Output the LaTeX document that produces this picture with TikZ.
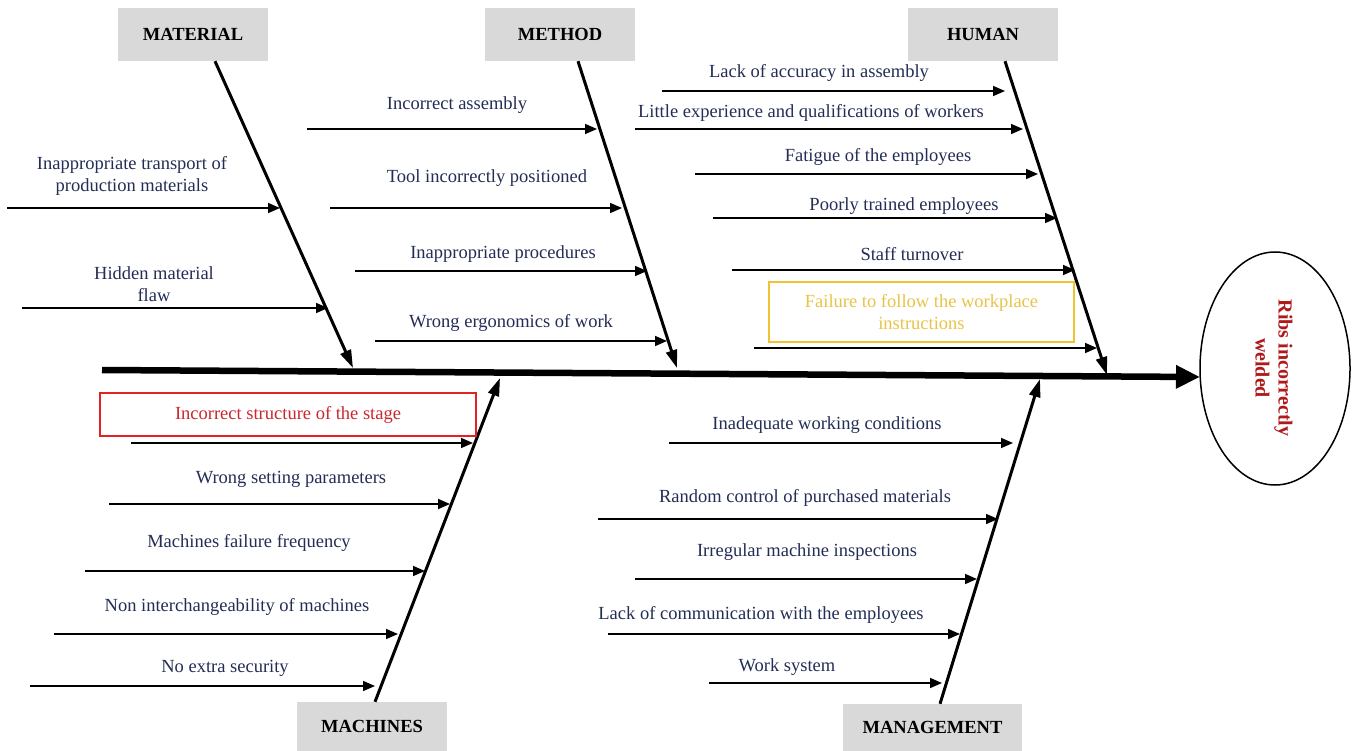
\documentclass[tikz,border=0pt]{standalone}
\usepackage{fontspec}
\setmainfont{Liberation Serif}
\usetikzlibrary{arrows.meta,shapes.geometric}
\definecolor{txt}{RGB}{35,45,85}
\definecolor{boxgray}{RGB}{217,217,217}
\definecolor{redbox}{RGB}{225,35,35}
\definecolor{redtxt}{RGB}{200,40,45}
\definecolor{goldbox}{RGB}{240,195,50}
\definecolor{goldtxt}{RGB}{232,195,70}
\definecolor{ribs}{RGB}{175,25,25}
\begin{document}
\begin{tikzpicture}[x=1pt,y=-1pt,
  cat/.style={fill=boxgray, minimum width=150pt, minimum height=53pt, inner sep=0pt,
    font=\fontsize{18.5}{21}\selectfont\bfseries, text=black},
  lbl/.style={font=\fontsize{18.5}{21.5}\selectfont, text=txt, align=center, inner sep=0pt, yshift=-2pt},
  branch/.style={line width=1.6pt, -{Triangle[length=12pt,width=10pt]}},
  bone/.style={line width=3pt, -{Triangle[length=18pt,width=11pt]}},
  spine/.style={line width=6.5pt, -{Triangle[length=24pt,width=22pt]}}]
\useasboundingbox (0,0) rectangle (1356,751);

% category boxes
\node[cat] (mat) at (193,34.5) {MATERIAL};
\node[cat] (met) at (560,34.5) {METHOD};
\node[cat] (hum) at (983,34.5) {HUMAN};
\node[cat, minimum height=49pt] (mac) at (372,726.5) {MACHINES};
\node[cat, minimum width=179pt, minimum height=47pt] (man) at (932.5,727.5) {MANAGEMENT};

% effect
\node[ellipse, draw, line width=1.5pt, minimum width=150pt, minimum height=233pt] (eff) at (1275,368.5) {};
\node[rotate=-90, align=center, text=ribs, inner sep=0pt,
  font=\fontsize{20}{23}\selectfont\bfseries] (efftxt) at (1274,368) {Ribs incorrectly\\welded};

% spine
\coordinate (spL) at (102,370);
\coordinate (spR) at (1200,377);
\draw[spine] (spL) -- (spR);

% bones
\coordinate (matTip) at (353,368);
\coordinate (metTip) at (677,368);
\coordinate (humTip) at (1107,375);
\coordinate (macTip) at (500,378);
\coordinate (manTip) at (1040,379);
\draw[bone] ([xshift=22pt]mat.south) -- (matTip);
\draw[bone] ([xshift=18pt]met.south) -- (metTip);
\draw[bone] ([xshift=22pt]hum.south) -- (humTip);
\draw[bone] ([xshift=3pt]mac.north) -- (macTip);
\draw[bone] ([xshift=7.5pt]man.north) -- (manTip);

% highlighted boxes
\node[draw=redbox, line width=2.2pt, minimum width=376pt, minimum height=43pt, inner sep=0pt,
  text=redtxt, font=\fontsize{18.5}{21.5}\selectfont] (redb) at (288,414.5) {Incorrect structure of the stage};
\node[draw=goldbox, line width=2.5pt, minimum width=305pt, minimum height=60pt, inner sep=0pt,
  text=goldtxt, align=center, font=\fontsize{18.5}{21.5}\selectfont] (goldb) at (921.5,312) {Failure to follow the workplace\\instructions};

% branch arrows
\foreach \n/\xa/\xb/\y in {
  a1/7/280/208, a2/22/328/308,
  b1/307/597/129, b2/330/622/208, b3/355/647/271, b4/375/667/341,
  c1/662/1005/91, c2/635/1023/129, c3/695/1038/174, c4/713/1057/218, c5/732/1075/270, c6/754/1097/348,
  d1/131/473/443, d2/109/450/504, d3/85/425/571, d4/54/398/634, d5/30/375/686,
  e1/669/1013/443, e2/598/998/519, e3/635/977/579, e4/608/960/634, e5/709/942/683}
{
  \coordinate (s\n) at (\xa,\y);
  \coordinate (t\n) at (\xb,\y);
  \draw[branch] (s\n) -- (t\n);
}

% labels
\node[lbl] (la1) at (132,174) {Inappropriate transport of\\production materials};
\node[lbl] (la2) at (154,282) {Hidden material\\flaw};
\node[lbl] (lb1) at (457,103) {Incorrect assembly};
\node[lbl] (lb2) at (487,176) {Tool incorrectly positioned};
\node[lbl] (lb3) at (503,252) {Inappropriate procedures};
\node[lbl] (lb4) at (511,321) {Wrong ergonomics of work};
\node[lbl] (lc1) at (819,71) {Lack of accuracy in assembly};
\node[lbl] (lc2) at (811,111) {Little experience and qualifications of workers};
\node[lbl] (lc3) at (878,155) {Fatigue of the employees};
\node[lbl] (lc4) at (904,204) {Poorly trained employees};
\node[lbl] (lc5) at (912,252) {Staff turnover};
\node[lbl] (ld2) at (291,477) {Wrong setting parameters};
\node[lbl] (ld3) at (249,541) {Machines failure frequency};
\node[lbl] (ld4) at (237,605) {Non interchangeability of machines};
\node[lbl] (ld5) at (225,666) {No extra security};
\node[lbl] (le1) at (827,423) {Inadequate working conditions};
\node[lbl] (le2) at (805,496) {Random control of purchased materials};
\node[lbl] (le3) at (807,550) {Irregular machine inspections};
\node[lbl] (le4) at (761,613) {Lack of communication with the employees};
\node[lbl] (le5) at (787,665) {Work system};
\end{tikzpicture}
\end{document}
